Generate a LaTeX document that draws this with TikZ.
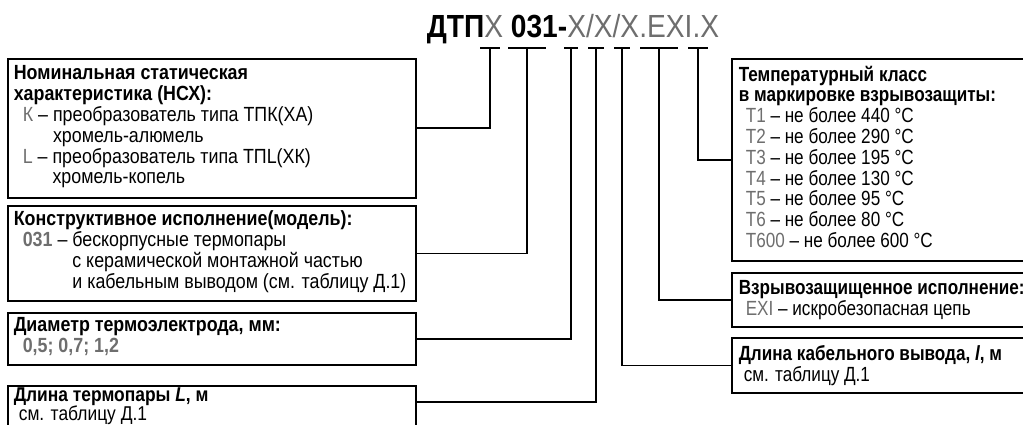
\documentclass[tikz,border=0pt]{standalone}
\usepackage{fontspec}
\setmainfont{Liberation Sans}[FakeStretch=0.835]
\newfontfamily\leftfont{Liberation Sans}[FakeStretch=0.87]
\newfontfamily\titlefont{Liberation Sans}[FakeStretch=0.88]
\definecolor{graytxt}{RGB}{110,110,110}
\newcommand{\gr}[1]{\textcolor{graytxt}{#1}}
\begin{document}
\begin{tikzpicture}[x=1pt,y=-1pt,line width=1.6pt,
  frame/.style={draw,rectangle,anchor=north west,inner sep=0pt},
  txt/.style={anchor=north west,inner sep=0pt,align=left,font=\fontsize{20.5}{20.8}\selectfont},
  ltxt/.style={txt,font=\leftfont\fontsize{20.5}{20.8}\selectfont},
  link/.style={line width=1.6pt},
  bar/.style={line width=1.6pt}]
\useasboundingbox (0,0) rectangle (1023,425);
\clip (0,0) rectangle (1023,425);
% title
\node[anchor=base west,inner sep=0pt,font=\titlefont\fontsize{32}{34}\selectfont] (title) at (426,38)
  {\textbf{ДТП}\gr{X} \textbf{031-}\gr{X/X/X.EXI.X}};
% boxes
\node[frame,minimum width=408pt,minimum height=139pt] (b1) at (7,58) {};
\node[frame,minimum width=408pt,minimum height=95pt] (b2) at (7,205) {};
\node[frame,minimum width=408pt,minimum height=52pt] (b3) at (7,312) {};
\node[frame,minimum width=408pt,minimum height=60pt] (b4) at (7,385) {};
\node[frame,minimum width=320pt,minimum height=202pt] (bT) at (731,58) {};
\node[frame,minimum width=320pt,minimum height=54pt] (bE) at (731,272) {};
\node[frame,minimum width=320pt,minimum height=55pt] (bL) at (731,337) {};
% texts
\node[ltxt] (t1txt) at (13,65) {\textbf{Номинальная статическая}\\
  \textbf{характеристика (НСХ):}\\
  \hspace*{9pt}\gr{К} – преобразователь типа ТПК(ХА)\\
  \hspace*{9pt}\phantom{К – }хромель-алюмель\\
  \hspace*{9pt}\gr{L} – преобразователь типа ТПL(ХК)\\
  \hspace*{9pt}\phantom{L – }хромель-копель};
\node[ltxt] (t2txt) at (13,210) {\textbf{Конструктивное исполнение(модель):}\\
  \hspace*{9pt}\gr{\textbf{031}} – бескорпусные термопары\\
  \hspace*{9pt}\phantom{\textbf{031} – }с керамической монтажной частью\\
  \hspace*{9pt}\phantom{\textbf{031} – }и кабельным выводом (см. таблицу Д.1)};
\node[ltxt] (t3txt) at (13,317) {\textbf{Диаметр термоэлектрода, мм:}\\
  \hspace*{9pt}\gr{\textbf{0,5; 0,7; 1,2}}};
\node[ltxt,font=\leftfont\fontsize{20}{17.5}\selectfont] (t4txt) at (13,386.5) {\textbf{Длина термопары \textit{L}, м}\\
  \hspace*{5pt}см. таблицу Д.1};
\node[txt] (tTtxt) at (738,65) {\textbf{Температурный класс}\\
  \textbf{в маркировке взрывозащиты:}\\
  \hspace*{7pt}\gr{T1} – не более 440 °C\\
  \hspace*{7pt}\gr{T2} – не более 290 °C\\
  \hspace*{7pt}\gr{T3} – не более 195 °C\\
  \hspace*{7pt}\gr{T4} – не более 130 °C\\
  \hspace*{7pt}\gr{T5} – не более 95 °C\\
  \hspace*{7pt}\gr{T6} – не более 80 °C\\
  \hspace*{7pt}\gr{T600} – не более 600 °C};
\node[txt] (tEtxt) at (738,280) {\textbf{Взрывозащищенное исполнение:}\\
  \hspace*{7pt}\gr{EXI} – искробезопасная цепь};
\node[txt] (tLtxt) at (738,345) {\textbf{Длина кабельного вывода, \textit{l}, м}\\
  \hspace*{5pt}см. таблицу Д.1};
% connector ends under the title
\coordinate (c1) at (490,48);
\coordinate (c2) at (527,48);
\coordinate (c3) at (571,48);
\coordinate (c4) at (596,48);
\coordinate (c5) at (622,48);
\coordinate (c6) at (659,48);
\coordinate (c7) at (698,48);
% bars
\draw[bar] ([xshift=-10pt]c1) -- ([xshift=10pt]c1);
\draw[bar] ([xshift=-19pt]c2) -- ([xshift=19pt]c2);
\draw[bar] ([xshift=-7pt]c3) -- ([xshift=7pt]c3);
\draw[bar] ([xshift=-8pt]c4) -- ([xshift=8pt]c4);
\draw[bar] ([xshift=-8pt]c5) -- ([xshift=8pt]c5);
\draw[bar] ([xshift=-19pt]c6) -- ([xshift=19pt]c6);
\draw[bar] ([xshift=-10pt]c7) -- ([xshift=10pt]c7);
% connectors
\draw[link] (b1.east) -| (c1);
\draw[link] (b2.east) -| (c2);
\draw[link] (b3.east) -| (c3);
\draw[link] ([yshift=-17pt]b4.north east) -| (c4);
\draw[link] (bL.west) -| (c5);
\draw[link] (bE.west) -| (c6);
\draw[link] (bT.west) -| (c7);
\end{tikzpicture}
\end{document}
